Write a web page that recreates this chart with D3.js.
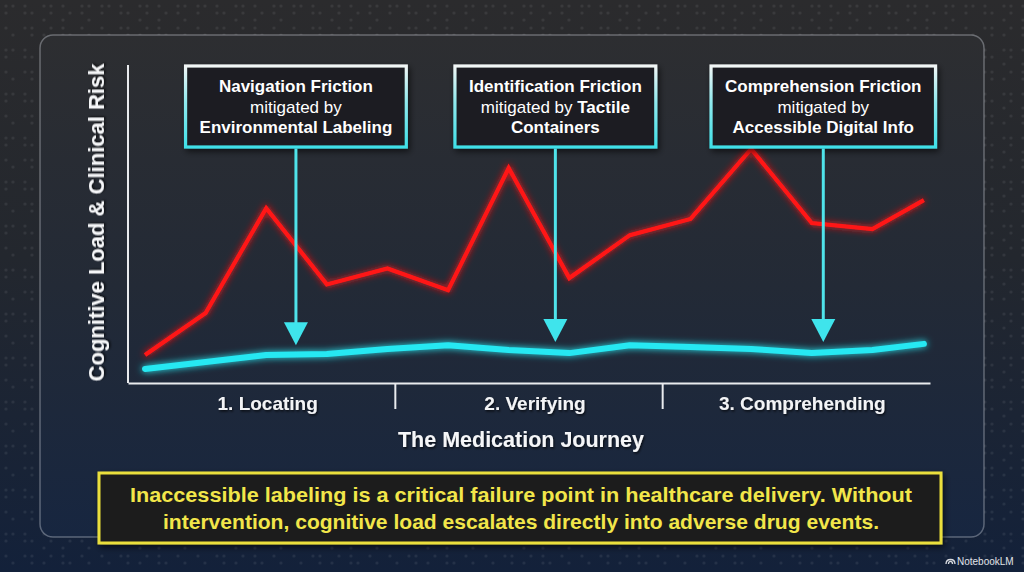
<!DOCTYPE html>
<html><head><meta charset="utf-8">
<script src="https://cdn.jsdelivr.net/npm/d3@7"></script>
<style>body{margin:0;background:#1d2430}svg{display:block}</style>
</head><body>
<svg id="chart" width="1024" height="572"></svg>
<script>
// ---------- data ----------
const stages = ["1. Locating", "2. Verifying", "3. Comprehending"];
const journeyPos = [0, 1, 2, 3, 4, 5, 6, 7, 8, 9, 10, 11, 12, 12.85];
const riskWithout = [8.8, 22, 55, 31, 36, 29.2, 67.6, 33, 46.5, 51.6, 73.6, 50.3, 48.4, 57.5];
const riskWith = [4.4, 6.6, 8.8, 9.1, 10.7, 11.9, 10.4, 9.4, 11.9, 11.3, 10.7, 9.4, 10.4, 12.3];
const annoTitles = ["Navigation Friction", "Identification Friction", "Comprehension Friction"];
const annoLine2 = [[["mitigated by", false]], [["mitigated by ", false], ["Tactile", true]], [["mitigated by", false]]];
const annoLine3 = ["Environmental Labeling", "Containers", "Accessible Digital Info"];
const annoTargetX = [2.49, 6.77, 11.19];
const annoTargetY = [11.9, 12.9, 12.9];
const yTitle = "Cognitive Load & Clinical Risk";
const xTitle = "The Medication Journey";
const calloutLines = ["Inaccessible labeling is a critical failure point in healthcare delivery. Without",
                      "intervention, cognitive load escalates directly into adverse drug events."];

// ---------- setup ----------
const W = 1024, H = 572;
const svg = d3.select("#chart");
const FONT = "'Liberation Sans', Arial, Helvetica, sans-serif";
const defs = svg.append("defs");

const bgGrad = defs.append("linearGradient").attr("id", "bgGrad").attr("x1", 0).attr("y1", 0).attr("x2", 0).attr("y2", 1);
bgGrad.append("stop").attr("offset", "0%").attr("stop-color", "#2b2b2d");
bgGrad.append("stop").attr("offset", "45%").attr("stop-color", "#23272e");
bgGrad.append("stop").attr("offset", "100%").attr("stop-color", "#13213a");

const panelGrad = defs.append("linearGradient").attr("id", "panelGrad").attr("x1", 0).attr("y1", 0).attr("x2", 0).attr("y2", 1);
panelGrad.append("stop").attr("offset", "0%").attr("stop-color", "#2d2e31");
panelGrad.append("stop").attr("offset", "50%").attr("stop-color", "#232a36");
panelGrad.append("stop").attr("offset", "100%").attr("stop-color", "#172640");

const boxStroke = defs.append("linearGradient").attr("id", "boxStroke").attr("x1", 0).attr("y1", 0).attr("x2", 0).attr("y2", 1);
boxStroke.append("stop").attr("offset", "0%").attr("stop-color", "#f2f6f6");
boxStroke.append("stop").attr("offset", "45%").attr("stop-color", "#8fe9ee");
boxStroke.append("stop").attr("offset", "100%").attr("stop-color", "#3fe0e8");

function glow(id, sd) {
  const f = defs.append("filter").attr("id", id).attr("x", "-20%").attr("y", "-60%").attr("width", "140%").attr("height", "220%");
  f.append("feGaussianBlur").attr("in", "SourceGraphic").attr("stdDeviation", sd).attr("result", "b");
  const m = f.append("feMerge");
  m.append("feMergeNode").attr("in", "b");
  m.append("feMergeNode").attr("in", "SourceGraphic");
}
glow("glowR", 3.5);
glow("glowC", 3.5);
const sh = defs.append("filter").attr("id", "tshadow").attr("x", "-10%").attr("y", "-30%").attr("width", "120%").attr("height", "160%");
sh.append("feDropShadow").attr("dx", 1).attr("dy", 1.5).attr("stdDeviation", 1).attr("flood-color", "#000").attr("flood-opacity", 0.7);
const bsh = defs.append("filter").attr("id", "bshadow").attr("x", "-10%").attr("y", "-20%").attr("width", "120%").attr("height", "150%");
bsh.append("feDropShadow").attr("dx", 2).attr("dy", 3).attr("stdDeviation", 3).attr("flood-color", "#000").attr("flood-opacity", 0.6);

// braille-like dot texture
const pat = defs.append("pattern").attr("id", "braille").attr("patternUnits", "userSpaceOnUse").attr("width", 96).attr("height", 44);
[[6,6],[13,6],[6,13],[25,6],[25,13],[32,13],[44,6],[51,6],[51,13],[44,20],[63,6],[70,13],[63,20],[82,6],[89,6],[82,13],[89,20],
 [6,28],[13,35],[25,28],[32,28],[32,35],[44,35],[51,28],[63,28],[63,35],[70,35],[82,28],[89,35]].forEach(([cx, cy]) =>
  pat.append("circle").attr("cx", cx).attr("cy", cy).attr("r", 1.6).attr("fill", "rgba(255,255,255,0.07)"));

svg.append("rect").attr("width", W).attr("height", H).attr("fill", "url(#bgGrad)");
svg.append("rect").attr("width", W).attr("height", H).attr("fill", "url(#braille)");

// panel
svg.append("rect").attr("x", 40).attr("y", 35).attr("width", 944).attr("height", 502).attr("rx", 13)
  .attr("fill", "url(#panelGrad)").attr("stroke", "rgba(220,225,235,0.35)").attr("stroke-width", 1.5);

// ---------- scales ----------
const plot = { left: 128, right: 930, top: 65, bottom: 383 };
const x = d3.scaleLinear().domain([0, 13]).range([145, 933]);
const y = d3.scaleLinear().domain([0, 100]).range([plot.bottom, plot.top]);
const xb = d3.scaleBand().domain(stages).range([plot.left, plot.right]);

// axes
svg.append("line").attr("x1", plot.left).attr("x2", plot.left).attr("y1", plot.top).attr("y2", plot.bottom)
  .attr("stroke", "#e9ebee").attr("stroke-width", 2);
const xAxis = d3.axisBottom(xb).tickSize(0).tickPadding(0);
const gx = svg.append("g").attr("transform", `translate(0,${plot.bottom})`).call(xAxis);
gx.select(".domain").attr("stroke", "#e9ebee").attr("stroke-width", 2.2);
gx.selectAll(".tick text").attr("dy", null).attr("y", 27).attr("dx", 6)
  .attr("font-family", FONT).attr("font-size", 19).attr("font-weight", "bold").attr("fill", "#f3f4f6")
  .attr("filter", "url(#tshadow)");
// stage separators at band boundaries
svg.append("g").selectAll("line").data(stages.slice(1)).join("line")
  .attr("x1", d => xb(d)).attr("x2", d => xb(d)).attr("y1", plot.bottom).attr("y2", plot.bottom + 26)
  .attr("stroke", "#e9ebee").attr("stroke-width", 2);

// titles
svg.append("text").attr("x", 521).attr("y", 447).attr("text-anchor", "middle")
  .attr("font-family", FONT).attr("font-size", 21.5).attr("font-weight", "bold").attr("fill", "#f5f6f8")
  .attr("filter", "url(#tshadow)").text(xTitle);
svg.append("text").attr("transform", `translate(104,${(plot.top + 380) / 2}) rotate(-90)`).attr("text-anchor", "middle")
  .attr("font-family", FONT).attr("font-size", 22).attr("font-weight", "bold").attr("fill", "#f5f6f8")
  .attr("filter", "url(#tshadow)").text(yTitle);

// ---------- lines ----------
const line = d3.line().x((d, i) => x(journeyPos[i])).y(d => y(d));
svg.append("path").datum(riskWithout).attr("d", line).attr("fill", "none")
  .attr("stroke", "#ff1616").attr("stroke-width", 4.2).attr("stroke-linejoin", "miter").attr("stroke-linecap", "butt")
  .attr("filter", "url(#glowR)");
svg.append("path").datum(riskWith).attr("d", line).attr("fill", "none")
  .attr("stroke", "#27e8f2").attr("stroke-width", 6).attr("stroke-linejoin", "round").attr("stroke-linecap", "round")
  .attr("filter", "url(#glowC)");

// ---------- annotations ----------
const boxTop = 66, boxH = 81;
annoTitles.forEach((title, i) => {
  const cx = x(annoTargetX[i]);
  const g = svg.append("g");
  const rect = g.append("rect");
  const t = g.append("g").attr("font-family", FONT).attr("font-size", 17).attr("fill", "#ffffff").attr("text-anchor", "middle");
  const l1 = t.append("text").attr("x", cx).attr("y", boxTop + 26).attr("font-weight", "bold").text(title);
  const l2 = t.append("text").attr("x", cx).attr("y", boxTop + 46.5);
  annoLine2[i].forEach(([s, b]) => l2.append("tspan").attr("font-weight", b ? "bold" : "normal").text(s));
  const l3 = t.append("text").attr("x", cx).attr("y", boxTop + 67).attr("font-weight", "bold").text(annoLine3[i]);
  const maxW = d3.max([l1, l2, l3], s => s.node().getComputedTextLength());
  const bw = maxW + 28;
  rect.attr("x", cx - bw / 2).attr("y", boxTop).attr("width", bw).attr("height", boxH)
    .attr("fill", "#1d1e20").attr("stroke", "url(#boxStroke)").attr("stroke-width", 3.2).attr("filter", "url(#bshadow)");
  // arrow
  const tipY = y(annoTargetY[i]);
  const headH = 23, headW = 24;
  g.append("line").attr("x1", cx).attr("x2", cx).attr("y1", boxTop + boxH + 1.5).attr("y2", tipY - headH + 2)
    .attr("stroke", "#4fe3ea").attr("stroke-width", 3);
  g.append("path").attr("d", `M${cx - headW / 2},${tipY - headH} L${cx + headW / 2},${tipY - headH} L${cx},${tipY} Z`)
    .attr("fill", "#3fe4ec");
});

// ---------- callout ----------
const cg = svg.append("g");
cg.append("rect").attr("x", 99).attr("y", 473).attr("width", 842).attr("height", 70)
  .attr("fill", "#1e1e1d").attr("stroke", "#eadf3c").attr("stroke-width", 3).attr("filter", "url(#bshadow)");
calloutLines.forEach((s, i) => {
  cg.append("text").attr("x", 521).attr("y", 502 + i * 27).attr("text-anchor", "middle")
    .attr("font-family", FONT).attr("font-size", 21).attr("font-weight", "bold").attr("fill", "#f2e64a")
    .attr("textLength", i === 0 ? 782 : 716).attr("lengthAdjust", "spacingAndGlyphs")
    .text(s);
});

// ---------- watermark ----------
const wm = svg.append("g").attr("transform", "translate(946,561)");
wm.append("path").attr("d", "M0,3 C0,-3 9,-3 9,3 M2.5,3 C2.5,-0.5 6.5,-0.5 6.5,3").attr("fill", "none").attr("stroke", "#d8dbe0").attr("stroke-width", 1.3);
wm.append("text").attr("x", 11).attr("y", 4).attr("font-family", FONT).attr("font-size", 10).attr("fill", "#e0e3e8").text("NotebookLM");
</script>
</body></html>
